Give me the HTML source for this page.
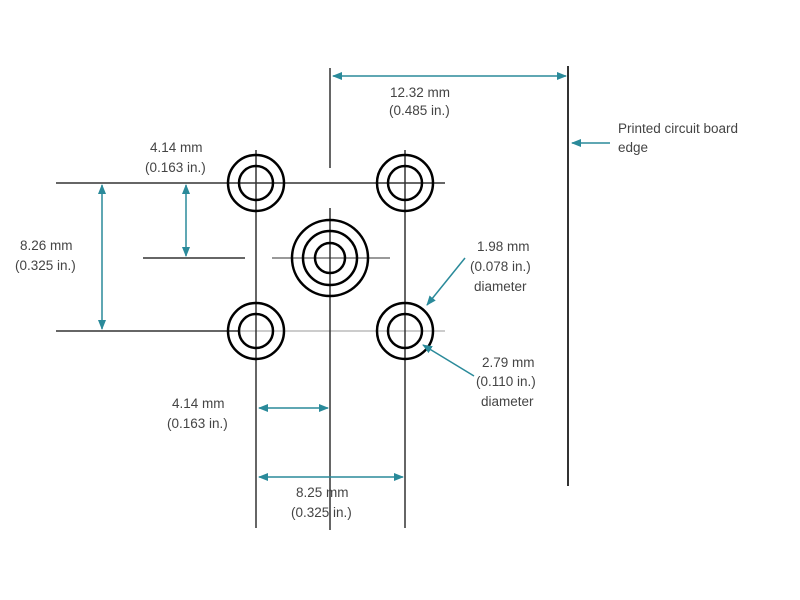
<!DOCTYPE html>
<html><head><style>body{margin:0;background:#fff}svg{display:block}text{font-family:"Liberation Sans",sans-serif;font-size:13.5px;fill:#444}</style></head><body>
<svg width="800" height="600" viewBox="0 0 800 600">
<defs><marker id="a" markerWidth="10" markerHeight="8" refX="9" refY="4" orient="auto-start-reverse" markerUnits="userSpaceOnUse"><path d="M0,0 L10,4 L0,8 Z" fill="#2a8a9a"/></marker></defs>
<g stroke="#333" stroke-width="1.5" fill="none">
<line x1="56" y1="183" x2="445" y2="183"/>
<line x1="56" y1="331" x2="240" y2="331"/>
<line x1="240" y1="331" x2="445" y2="331" stroke="#999" stroke-width="1"/>
<line x1="143" y1="258" x2="245" y2="258"/>
<line x1="272" y1="258" x2="390" y2="258" stroke-width="1"/>
<line x1="256" y1="150" x2="256" y2="528"/>
<line x1="405" y1="150" x2="405" y2="528"/>
<line x1="330" y1="68" x2="330" y2="168"/>
<line x1="330" y1="208" x2="330" y2="530"/>
<line x1="568" y1="66" x2="568" y2="486" stroke-width="2"/>
</g>
<g stroke="#000" stroke-width="2.5" fill="none">
<circle cx="256" cy="183" r="28"/><circle cx="256" cy="183" r="17"/>
<circle cx="405" cy="183" r="28"/><circle cx="405" cy="183" r="17"/>
<circle cx="256" cy="331" r="28"/><circle cx="256" cy="331" r="17"/>
<circle cx="405" cy="331" r="28"/><circle cx="405" cy="331" r="17"/>
<circle cx="330" cy="258" r="38"/><circle cx="330" cy="258" r="27"/><circle cx="330" cy="258" r="15"/>
</g>
<g stroke="#2a8a9a" stroke-width="1.5" fill="none">
<line x1="333" y1="76" x2="566" y2="76" marker-start="url(#a)" marker-end="url(#a)"/>
<line x1="610" y1="143" x2="572" y2="143" marker-end="url(#a)"/>
<line x1="102" y1="185" x2="102" y2="329" marker-start="url(#a)" marker-end="url(#a)"/>
<line x1="186" y1="185" x2="186" y2="256" marker-start="url(#a)" marker-end="url(#a)"/>
<line x1="259" y1="408" x2="328" y2="408" marker-start="url(#a)" marker-end="url(#a)"/>
<line x1="259" y1="477" x2="403" y2="477" marker-start="url(#a)" marker-end="url(#a)"/>
<line x1="465" y1="258" x2="427" y2="305" marker-end="url(#a)"/>
<line x1="474" y1="376" x2="423" y2="345" marker-end="url(#a)"/>
</g>
<text x="390" y="97">12.32 mm</text><text x="389" y="115">(0.485 in.)</text>
<text x="618" y="133">Printed circuit board</text><text x="618" y="152">edge</text>
<text x="150" y="152">4.14 mm</text><text x="145" y="172">(0.163 in.)</text>
<text x="20" y="250">8.26 mm</text><text x="15" y="270">(0.325 in.)</text>
<text x="477" y="251">1.98 mm</text><text x="470" y="271">(0.078 in.)</text><text x="474" y="291">diameter</text>
<text x="482" y="367">2.79 mm</text><text x="476" y="386">(0.110 in.)</text><text x="481" y="406">diameter</text>
<text x="172" y="408">4.14 mm</text><text x="167" y="428">(0.163 in.)</text>
<text x="296" y="497">8.25 mm</text><text x="291" y="517">(0.325 in.)</text>
</svg></body></html>
